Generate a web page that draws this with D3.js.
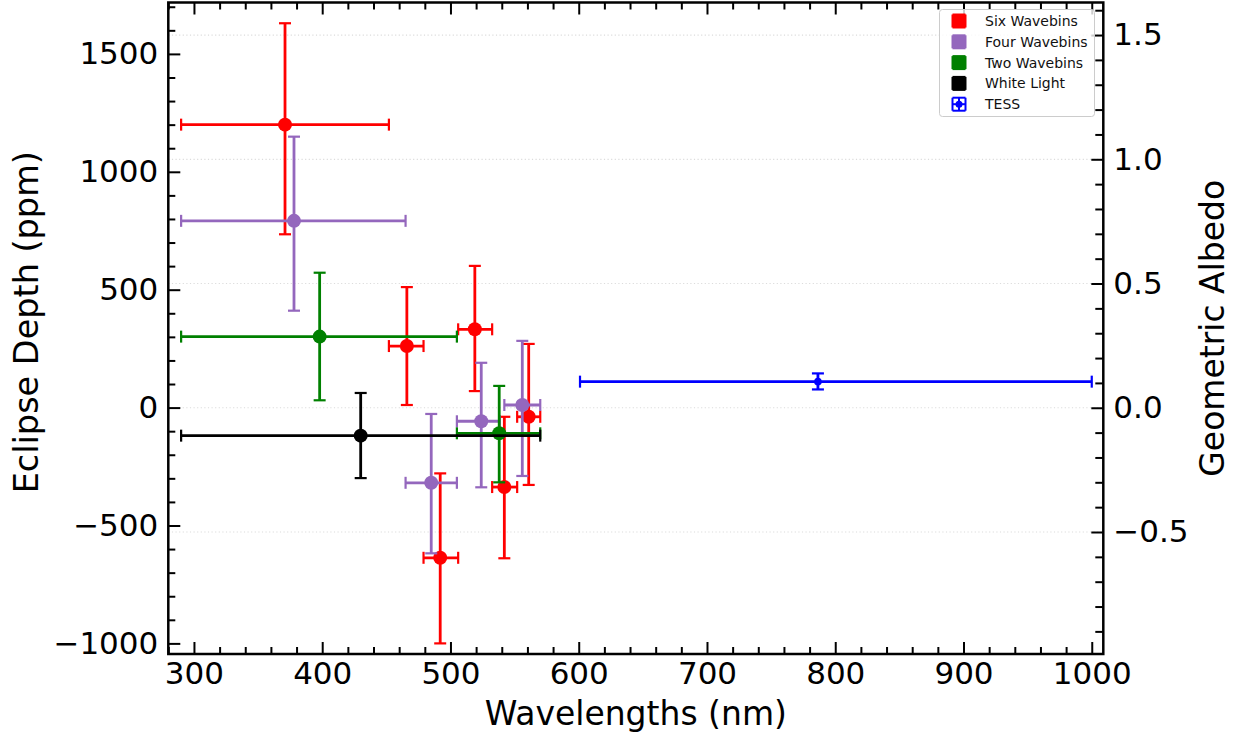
<!DOCTYPE html>
<html>
<head>
<meta charset="utf-8">
<script src="https://cdn.jsdelivr.net/npm/d3@7"></script>
<style>
  html, body { margin: 0; padding: 0; background: #fff; }
  svg { display: block; font-family: "DejaVu Sans", sans-serif; }
</style>
</head>
<body>
<svg id="chart" width="1237" height="734"></svg>
<script>
// ---------------- data ----------------
const seriesNames = ["Six Wavebins", "Four Wavebins", "Two Wavebins", "White Light", "TESS"];
const seriesColors = ["#ff0000", "#9467bd", "#008000", "#000000", "#0000ff"];

// Six Wavebins
const sixWave   = [371, 466, 519, 492, 542, 561];
const sixBinLo  = [290, 452, 506, 479, 532.5, 552];
const sixBinHi  = [452, 479, 532.5, 506, 552, 570];
const sixDepth  = [1200, 261, 332, -637, -337, -39];
const sixErrUp  = [430, 250, 269, 358, 298, 309];
const sixErrDn  = [465, 250, 262, 363, 302, 289];

// Four Wavebins
const fourWave  = [378, 485, 524, 556];
const fourBinLo = [290, 465, 505, 542];
const fourBinHi = [465, 505, 538.5, 570];
const fourDepth = [792, -319, -58, 11];
const fourErrUp = [357, 292, 248, 272];
const fourErrDn = [381, 299, 280, 301];

// Two Wavebins
const twoWave   = [398, 538];
const twoBinLo  = [290, 505];
const twoBinHi  = [505, 570];
const twoDepth  = [301, -109];
const twoErrUp  = [271, 201];
const twoErrDn  = [270, 208];

// White Light
const whiteWave  = [430];
const whiteBinLo = [290];
const whiteBinHi = [570];
const whiteDepth = [-119];
const whiteErrUp = [181];
const whiteErrDn = [180];

// TESS
const tessWave  = [786.5];
const tessBinLo = [601];
const tessBinHi = [1000];
const tessDepth = [110];
const tessErrUp = [35];
const tessErrDn = [33];

// ticks
const xTicks = [300, 400, 500, 600, 700, 800, 900, 1000];
const yTicks = [-1000, -500, 0, 500, 1000, 1500];
const albedoTicks = [-0.5, 0.0, 0.5, 1.0, 1.5];

// ---------------- layout ----------------
const svg = d3.select("#chart");
const L = 168.3, R = 1103.3, T = 2.5, B = 654;

const x = d3.scaleLinear().domain([280, 1009]).range([L, R]);
const yL = d3.scaleLinear().domain([-1045, 1718]).range([B, T]);
const yR = d3.scaleLinear().domain([-0.991, 1.631]).range([B, T]);

// gridlines (from right axis majors)
svg.append("g").selectAll("line").data(albedoTicks).join("line")
  .attr("x1", L).attr("x2", R)
  .attr("y1", d => yR(d)).attr("y2", d => yR(d))
  .attr("stroke", "#dcdcdc").attr("stroke-width", 1.2)
  .attr("stroke-dasharray", "1.2,2.4");

// ---------------- axes ----------------
const fontTick = 31;
function styleAxis(g) {
  g.select(".domain").remove();
  g.selectAll(".tick line").attr("stroke", "#000").attr("stroke-width", 2);
  g.selectAll(".tick text").attr("font-size", fontTick).attr("fill", "#000")
    .attr("font-family", "DejaVu Sans");
}
const range = (a, b, s) => d3.range(a, b + s / 2, s);
const xMinor = range(280, 1000, 20).filter(v => !xTicks.includes(v));
const yMinor = range(-1000, 1700, 100).filter(v => !yTicks.includes(v));
const rMinor = range(-0.9, 1.6, 0.1).map(v => +v.toFixed(1)).filter(v => !albedoTicks.some(t => Math.abs(t - v) < 1e-6));

// bottom
svg.append("g").attr("transform", `translate(0,${B})`)
  .call(d3.axisBottom(x).tickValues(xTicks).tickSize(-12).tickPadding(8).tickFormat(d3.format("d")))
  .call(styleAxis);
svg.append("g").attr("transform", `translate(0,${B})`)
  .call(d3.axisBottom(x).tickValues(xMinor).tickSize(-7).tickFormat(""))
  .call(styleAxis);
// top
svg.append("g").attr("transform", `translate(0,${T})`)
  .call(d3.axisTop(x).tickValues(xTicks).tickSize(-12).tickFormat(""))
  .call(styleAxis);
svg.append("g").attr("transform", `translate(0,${T})`)
  .call(d3.axisTop(x).tickValues(xMinor).tickSize(-7).tickFormat(""))
  .call(styleAxis);
// left
svg.append("g").attr("transform", `translate(${L},0)`)
  .call(d3.axisLeft(yL).tickValues(yTicks).tickSize(-12).tickPadding(10).tickFormat(d3.format("d")))
  .call(styleAxis);
svg.append("g").attr("transform", `translate(${L},0)`)
  .call(d3.axisLeft(yL).tickValues(yMinor).tickSize(-7).tickFormat(""))
  .call(styleAxis);
// right
svg.append("g").attr("transform", `translate(${R},0)`)
  .call(d3.axisRight(yR).tickValues(albedoTicks).tickSize(-12).tickPadding(10).tickFormat(d3.format(".1f")))
  .call(styleAxis);
svg.append("g").attr("transform", `translate(${R},0)`)
  .call(d3.axisRight(yR).tickValues(rMinor).tickSize(-8).tickFormat(""))
  .call(styleAxis);

// frame
svg.append("rect").attr("x", L).attr("y", T).attr("width", R - L).attr("height", B - T)
  .attr("fill", "none").attr("stroke", "#000").attr("stroke-width", 2.5);

// ---------------- data marks ----------------
function build(wave, lo, hi, depth, up, dn) {
  return wave.map((w, i) => ({ w, lo: lo[i], hi: hi[i], d: depth[i], up: up[i], dn: dn[i] }));
}
const allSeries = [
  build(sixWave, sixBinLo, sixBinHi, sixDepth, sixErrUp, sixErrDn),
  build(fourWave, fourBinLo, fourBinHi, fourDepth, fourErrUp, fourErrDn),
  build(twoWave, twoBinLo, twoBinHi, twoDepth, twoErrUp, twoErrDn),
  build(whiteWave, whiteBinLo, whiteBinHi, whiteDepth, whiteErrUp, whiteErrDn),
  build(tessWave, tessBinLo, tessBinHi, tessDepth, tessErrUp, tessErrDn)
];
const markerR = [7, 7, 7, 7, 3.8];
const cap = 6, lw = 2.8, capW = 2.2;

const plot = svg.append("g");
allSeries.forEach((data, si) => {
  const c = seriesColors[si];
  const g = plot.append("g");
  data.forEach(p => {
    const cx = x(p.w), cy = yL(p.d);
    const xa = x(p.lo), xb = x(p.hi), ya = yL(p.d + p.up), yb = yL(p.d - p.dn);
    g.append("line").attr("x1", xa).attr("x2", xb).attr("y1", cy).attr("y2", cy)
      .attr("stroke", c).attr("stroke-width", lw);
    g.append("line").attr("x1", cx).attr("x2", cx).attr("y1", ya).attr("y2", yb)
      .attr("stroke", c).attr("stroke-width", lw);
    [xa, xb].forEach(xx => g.append("line").attr("x1", xx).attr("x2", xx)
      .attr("y1", cy - cap).attr("y2", cy + cap).attr("stroke", c).attr("stroke-width", capW));
    [ya, yb].forEach(yy => g.append("line").attr("x1", cx - cap).attr("x2", cx + cap)
      .attr("y1", yy).attr("y2", yy).attr("stroke", c).attr("stroke-width", capW));
    g.append("circle").attr("cx", cx).attr("cy", cy).attr("r", markerR[si]).attr("fill", c);
  });
});

// ---------------- labels ----------------
svg.append("text").attr("x", (L + R) / 2).attr("y", 725)
  .attr("text-anchor", "middle").attr("font-size", 33).text("Wavelengths (nm)");
svg.append("text").attr("transform", `translate(38,${(T + B) / 2 - 6}) rotate(-90)`)
  .attr("text-anchor", "middle").attr("font-size", 33.5).text("Eclipse Depth (ppm)");
svg.append("text").attr("transform", `translate(1224,${(T + B) / 2}) rotate(-90)`)
  .attr("text-anchor", "middle").attr("font-size", 33).text("Geometric Albedo");

// ---------------- legend ----------------
const leg = svg.append("g");
leg.append("rect").attr("x", 939.5).attr("y", 9.5).attr("width", 155).attr("height", 107)
  .attr("rx", 3).attr("fill", "#fff").attr("fill-opacity", 0.8)
  .attr("stroke", "#cccccc").attr("stroke-width", 1);
seriesNames.forEach((name, i) => {
  const cy = 21 + i * 20.8, cx = 959, c = seriesColors[i];
  const s = 6.5;
  const lg = leg.append("g");
  lg.append("line").attr("x1", cx - s).attr("x2", cx + s).attr("y1", cy).attr("y2", cy).attr("stroke", c).attr("stroke-width", 2);
  lg.append("line").attr("x1", cx).attr("x2", cx).attr("y1", cy - s).attr("y2", cy + s).attr("stroke", c).attr("stroke-width", 2);
  [-s, s].forEach(o => {
    lg.append("line").attr("x1", cx + o).attr("x2", cx + o).attr("y1", cy - s).attr("y2", cy + s).attr("stroke", c).attr("stroke-width", 2);
    lg.append("line").attr("x1", cx - s).attr("x2", cx + s).attr("y1", cy + o).attr("y2", cy + o).attr("stroke", c).attr("stroke-width", 2);
  });
  if (i < 4) {
    lg.append("rect").attr("x", cx - s).attr("y", cy - s).attr("width", 2 * s).attr("height", 2 * s).attr("rx", 2).attr("fill", c);
  } else {
    lg.append("circle").attr("cx", cx).attr("cy", cy).attr("r", 3.5).attr("fill", c);
  }
  leg.append("text").attr("x", 985).attr("y", cy + 5).attr("font-size", 14).attr("fill", "#111").text(name);
});
</script>
</body>
</html>
